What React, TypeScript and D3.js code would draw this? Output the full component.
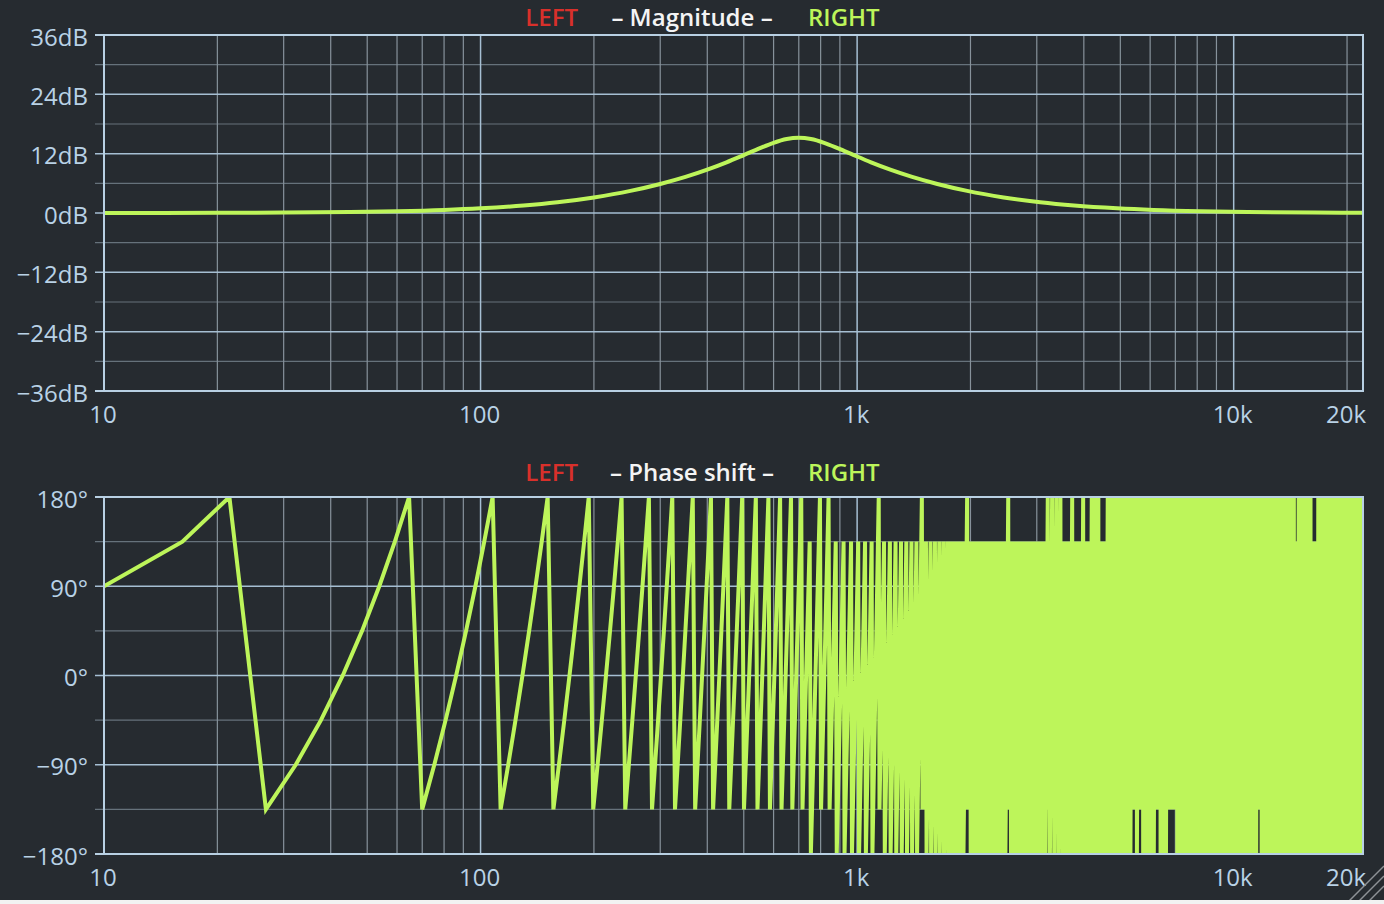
import React from 'react';
import * as d3 from 'd3';

const W = 1384;
const H = 904;

// ---------- data ----------
// Magnitude response (upper panel)
const MAG_FREQ = [10, 20, 30, 45, 60, 80, 100, 130, 160, 200, 250, 300, 350, 400, 450, 500, 550, 600, 650, 700, 754, 817, 891, 980, 1089, 1225, 1400, 1633, 1960, 2450, 3063, 3769, 4900, 6125, 8167, 10889, 16333, 22050];
const MAG_DB = [0.01, 0.04, 0.09, 0.2, 0.35, 0.61, 0.94, 1.51, 2.17, 3.15, 4.47, 5.87, 7.3, 8.77, 10.25, 11.71, 13.06, 14.2, 14.95, 15.2, 14.95, 14.2, 13.06, 11.71, 10.25, 8.77, 7.3, 5.87, 4.47, 3.15, 2.17, 1.51, 0.94, 0.61, 0.35, 0.2, 0.09, 0.05];

// Phase shift (lower panel): FFT bins, 5.383 Hz apart
const PHASE_BIN_HZ = 5.383;
const PHASE_HEAD_HZ = [10, 16.15, 21.53];
const PHASE_HEAD_DEG = [90, 135, 180];
// the seven readings of every cycle between two wraps
const PHASE_CYCLE_DEG = [-135, -90, -45, 0, 45, 90, 135];
// per cycle: the wrap reading is +180 ('+') or -180 ('-')
const PHASE_WRAP = [
  '++++++++', '++++++++', '-++-----', '-+------', '-+------', '----+---', '--------', '-+------',
  '--------', '-+-+-+-+', '-----+--', '---+----', '+-+-+---', '--+-+-+-', '+-+-+-+-', '+--++++-',
  '++++-+-+', '-+-+--++', '+++-+-+-', '-+++++++', '+++-+-+-', '+-+-+-+-', '+-+-+-+-', '+-+-+-+-',
  '+-+-+-+-', '+-+-+-+-', '+-+-+-+-', '+-+-+-+-', '+-+-+-+-', '+-+-+-+-', '+-+-+-+-', '+-+-+-+-',
  '+-+-+-+-', '+-++++++', '++-+-+-+', '+-+-+-+-', '+-+-+-+-', '+-+-+-+-', '+-+-+-+-', '+-+-+-+-',
  '+-+-+-+-', '+-+-+-+-', '--------', '+-+-+-+-', '+-+-+-+-', '+-+-+-+-', '+-+-----', '--------',
  '----+-+-', '+-+-+-+-', '+-+-+-+-', '+-+-+-+-', '+-+-+-+-', '+-+-+-+-', '+-+-+-+-', '+-+-+-+-',
  '+-+-+-+-', '+-+-+-+-', '+-+-+-+-', '+-+-+-+-', '+-+-+-+-', '+-+-+-+-', '+-+-+-+-', '+-+-+-+',
].join('');

// Axes
const F_MIN = 10;
const F_MAX = 22050;
const X_GRID = [20, 30, 40, 50, 60, 70, 80, 90, 100, 200, 300, 400, 500, 600, 700, 800, 900, 1000, 2000, 3000, 4000, 5000, 6000, 7000, 8000, 9000, 10000, 20000];
const X_DECADES = [100, 1000, 10000];
const X_TICKS = [10, 100, 1000, 10000, 20000];
const X_TICK_LABELS = ['10', '100', '1k', '10k', '20k'];
const MAG_TICKS = [36, 24, 12, 0, -12, -24, -36];
const MAG_TICK_LABELS = ['36dB', '24dB', '12dB', '0dB', '\u221212dB', '\u221224dB', '\u221236dB'];
const MAG_MINOR = [30, 18, 6, -6, -18, -30];
const PH_TICKS = [180, 90, 0, -90, -180];
const PH_TICK_LABELS = ['180\u00b0', '90\u00b0', '0\u00b0', '\u221290\u00b0', '\u2212180\u00b0'];
const PH_MINOR = [135, 45, -45, -135];

// ---------- styles ----------
const BG = '#262b30';
const FRAME = '#b8d0e3';
const GRID_MAJOR = '#a6bfd3';
const GRID_V = '#87929b';
const GRID_MINOR = '#66727b';
const LABEL = '#b9d2e6';
const CURVE = '#bdf55a';
const RED = '#d8302b';
const FONT = "'Open Sans', 'DejaVu Sans', sans-serif";

const LEFT = 104;
const RIGHT = 1363;

function buildPhase() {
  const pts: { f: number; d: number }[] = [];
  PHASE_HEAD_HZ.forEach((f, i) => pts.push({ f, d: PHASE_HEAD_DEG[i] }));
  let k = 5;
  while (k * PHASE_BIN_HZ <= F_MAX) {
    const idx = (k - 5) % 8;
    const g = Math.floor((k - 5) / 8);
    let deg: number;
    if (idx < 7) deg = PHASE_CYCLE_DEG[idx];
    else deg = PHASE_WRAP[g] === '-' ? -180 : 180;
    pts.push({ f: k * PHASE_BIN_HZ, d: deg });
    k++;
  }
  return pts;
}

type PanelProps = {
  top: number;
  bottom: number;
  titleY: number;
  title: string;
  ticks: number[];
  tickLabels: string[];
  minor: number[];
  domain: [number, number];
  id: string;
  children: (x: d3.ScaleLogarithmic<number, number>, y: d3.ScaleLinear<number, number>) => React.ReactNode;
};

function Panel({ top, bottom, titleY, title, ticks, tickLabels, minor, domain, id, children }: PanelProps) {
  const x = d3.scaleLog().domain([F_MIN, F_MAX]).range([LEFT, RIGHT]);
  const y = d3.scaleLinear().domain(domain).range([bottom, top]);
  const major = ticks.filter((t) => t !== domain[0] && t !== domain[1]);
  return (
    <g>
      <defs>
        <clipPath id={id}>
          <rect x={LEFT} y={top} width={RIGHT - LEFT} height={bottom - top} />
        </clipPath>
      </defs>
      {/* title */}
      <text x={578} y={titleY} textAnchor="end" fill={RED} fontSize={24} fontFamily={FONT} fontWeight={600}>LEFT</text>
      <text x={692} y={titleY} textAnchor="middle" fill="#f4f4f4" fontSize={24} fontFamily={FONT} fontWeight={600}>{`\u2013 ${title} \u2013`}</text>
      <text x={808} y={titleY} textAnchor="start" fill={CURVE} fontSize={24} fontFamily={FONT} fontWeight={600}>RIGHT</text>
      {/* grid */}
      {minor.map((v) => (
        <line key={'mn' + v} x1={95} x2={RIGHT} y1={y(v)} y2={y(v)} stroke={GRID_MINOR} strokeWidth={1.2} />
      ))}
      {X_GRID.map((f) => (
        <line key={'vx' + f} x1={x(f)} x2={x(f)} y1={top} y2={bottom}
          stroke={X_DECADES.includes(f) ? GRID_MAJOR : GRID_V} strokeWidth={X_DECADES.includes(f) ? 1.5 : 1.2} />
      ))}
      {major.map((v) => (
        <line key={'mj' + v} x1={95} x2={RIGHT} y1={y(v)} y2={y(v)} stroke={GRID_MAJOR} strokeWidth={1.5} />
      ))}
      <line x1={95} x2={LEFT} y1={top} y2={top} stroke={FRAME} strokeWidth={2} />
      <line x1={95} x2={LEFT} y1={bottom} y2={bottom} stroke={FRAME} strokeWidth={2} />
      {/* data */}
      <g clipPath={`url(#${id})`}>{children(x, y)}</g>
      {/* frame */}
      <rect x={LEFT} y={top} width={RIGHT - LEFT} height={bottom - top} fill="none" stroke={FRAME} strokeWidth={2} />
      {/* y labels */}
      {ticks.map((v, i) => (
        <text key={'yl' + v} x={88} y={y(v) + 10.5} textAnchor="end" fill={LABEL} fontSize={24} fontFamily={FONT}>
          {tickLabels[i]}
        </text>
      ))}
      {/* x labels */}
      {X_TICKS.map((f, i) => (
        <text key={'xl' + f} x={x(f) - 1} y={bottom + 32} textAnchor="middle" fill={LABEL} fontSize={24} fontFamily={FONT}>
          {X_TICK_LABELS[i]}
        </text>
      ))}
    </g>
  );
}

export default function App() {
  const magData = MAG_FREQ.map((f, i) => ({ f, d: MAG_DB[i] }));
  const phaseData = buildPhase();
  return (
    <svg width={W} height={H} viewBox={`0 0 ${W} ${H}`}
      style={{ position: 'absolute', left: 0, top: 0, display: 'block', background: BG }}>
      <rect x={0} y={0} width={W} height={H} fill={BG} />
      <Panel top={35} bottom={391} titleY={26} title="Magnitude" ticks={MAG_TICKS} tickLabels={MAG_TICK_LABELS}
        minor={MAG_MINOR} domain={[-36, 36]} id="clipMag">
        {(x, y) => {
          const line = d3.line<{ f: number; d: number }>()
            .x((p) => x(p.f)).y((p) => y(p.d)).curve(d3.curveMonotoneX);
          return <path d={line(magData) || ''} fill="none" stroke={CURVE} strokeWidth={4} strokeLinecap="round" />;
        }}
      </Panel>
      <Panel top={497} bottom={854} titleY={481} title="Phase shift" ticks={PH_TICKS} tickLabels={PH_TICK_LABELS}
        minor={PH_MINOR} domain={[-180, 180]} id="clipPh">
        {(x, y) => {
          const line = d3.line<{ f: number; d: number }>().x((p) => x(p.f)).y((p) => y(p.d));
          return <path d={line(phaseData) || ''} fill="none" stroke={CURVE} strokeWidth={4} strokeLinejoin="miter" />;
        }}
      </Panel>
      {/* window resize grip */}
      <g stroke="#8d9296" strokeWidth={1.5}>
        <line x1={1346} y1={904} x2={1384} y2={866} />
        <line x1={1356} y1={904} x2={1384} y2={876} />
        <line x1={1366} y1={904} x2={1384} y2={886} />
      </g>
      <rect x={0} y={900} width={W} height={4} fill="#f2f2f2" />
    </svg>
  );
}
